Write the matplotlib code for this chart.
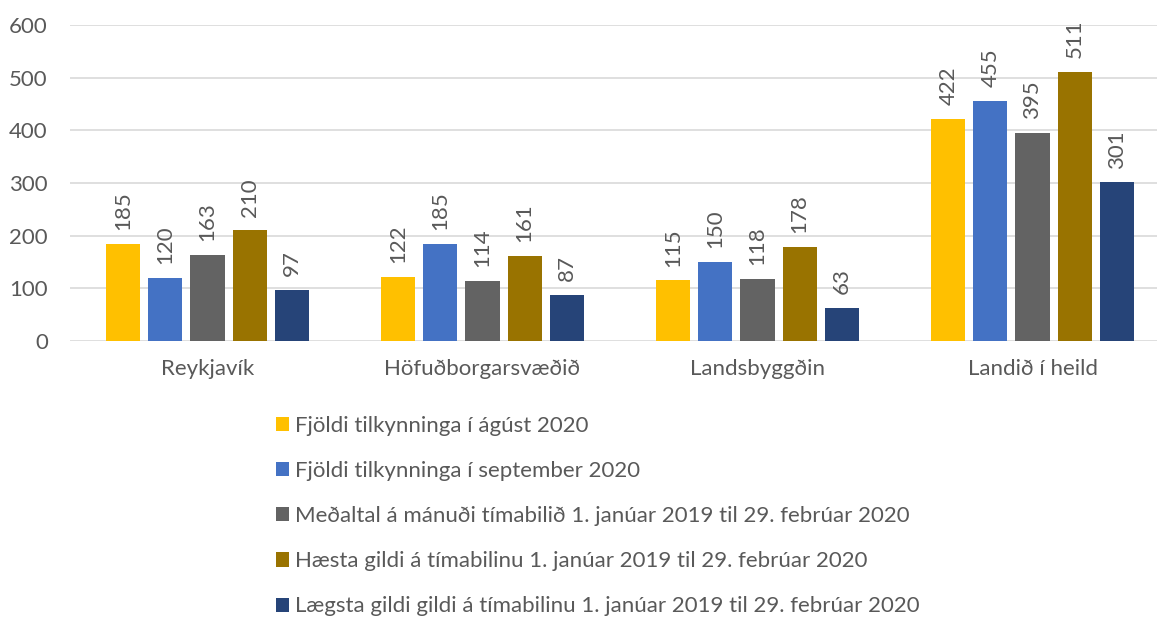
import numpy as np
import matplotlib
matplotlib.use("Agg")
import matplotlib.pyplot as plt
from matplotlib.patches import Patch

plt.rcParams['font.family'] = ['Lato', 'DejaVu Sans']

categories = ['Reykjavík', 'Höfuðborgarsvæðið', 'Landsbyggðin', 'Landið í heild']
series_names = [
    'Fjöldi tilkynninga í ágúst 2020',
    'Fjöldi tilkynninga í september 2020',
    'Meðaltal á mánuði tímabilið 1. janúar 2019 til 29. febrúar 2020',
    'Hæsta gildi á tímabilinu 1. janúar 2019 til 29. febrúar 2020',
    'Lægsta gildi gildi á tímabilinu 1. janúar 2019 til 29. febrúar 2020',
]
agust = [185, 122, 115, 422]
september = [120, 185, 150, 455]
medaltal = [163, 114, 118, 395]
haesta = [210, 161, 178, 511]
laegsta = [97, 87, 63, 301]
series = [agust, september, medaltal, haesta, laegsta]
colors = ['#FFC000', '#4472C4', '#636363', '#997300', '#264478']
text_col = '#595959'

fig = plt.figure(figsize=(11.57, 6.17), dpi=100)
ax = fig.add_axes([70/1157, 1-341/617, 1100/1157, 316/617])

x = np.arange(len(categories))
pitch = 0.153
width = 0.124
for i, (vals, c) in enumerate(zip(series, colors)):
    pos = x + (i - 2) * pitch
    ax.bar(pos, vals, width=width, color=c, zorder=3)
    for px, v in zip(pos, vals):
        ax.annotate(str(v), (px, v), xytext=(0, 10), textcoords='offset points',
                    rotation=90, ha='center', va='bottom', fontsize=16, color=text_col)

ax.set_xlim(-0.5, 3.5)
ax.set_ylim(0, 600)
ax.set_yticks(range(0, 601, 100))
ax.set_xticks(x)
ax.set_xticklabels(categories)
ax.grid(axis='y', color='#D9D9D9', linewidth=1.2, zorder=0)
for s in ax.spines.values():
    s.set_visible(False)
ax.tick_params(axis='both', length=0, labelsize=16, colors=text_col)
ax.tick_params(axis='y', pad=16)
ax.tick_params(axis='x', pad=13)

handles = [Patch(facecolor=c) for c in colors]
leg = fig.legend(handles, series_names, loc='upper left', bbox_to_anchor=(256/1157, 1-396/617),
                 frameon=False, fontsize=16, handlelength=0.6, handleheight=0.6,
                 handletextpad=0.25, labelspacing=1.13, labelcolor=text_col)

fig.savefig('out.png', dpi=100)
